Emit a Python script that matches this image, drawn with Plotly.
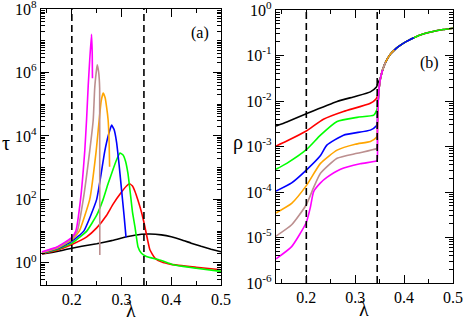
import numpy as np
import plotly.graph_objects as go

# ---------------- data: panel (a), tau vs lambda (log10 tau values) ----------------
lam_a_black = [0.14, 0.16, 0.18, 0.2, 0.22, 0.25, 0.28, 0.31, 0.34, 0.357, 0.38, 0.4, 0.42, 0.44, 0.46, 0.48, 0.5]
log_a_black = [0.28, 0.33, 0.39, 0.46, 0.52, 0.6, 0.7, 0.82, 0.9, 0.91, 0.88, 0.82, 0.73, 0.62, 0.52, 0.43, 0.35]

lam_a_red = [0.14, 0.17, 0.2, 0.23, 0.25, 0.27, 0.283, 0.3, 0.31, 0.316, 0.322, 0.327, 0.333, 0.34, 0.347, 0.352, 0.357, 0.367, 0.38, 0.4, 0.45, 0.5]
log_a_red = [0.29, 0.4, 0.58, 0.82, 1.1, 1.5, 1.85, 2.23, 2.42, 2.49, 2.42, 2.25, 1.97, 1.6, 1.13, 0.75, 0.41, 0.15, 0.03, -0.05, -0.14, -0.22]

lam_a_green = [0.14, 0.17, 0.2, 0.23, 0.25, 0.263, 0.273, 0.283, 0.29, 0.297, 0.303, 0.308, 0.313, 0.317, 0.322, 0.327, 0.333, 0.34, 0.35, 0.377, 0.404, 0.45, 0.5]
log_a_green = [0.3, 0.42, 0.62, 1.0, 1.5, 2.0, 2.5, 2.95, 3.25, 3.46, 3.4, 3.2, 2.8, 2.28, 1.6, 1.13, 0.51, 0.3, 0.2, 0.09, -0.06, -0.17, -0.27]

lam_a_blue = [0.14, 0.17, 0.2, 0.224, 0.25, 0.266, 0.274, 0.28, 0.285, 0.29, 0.295, 0.3, 0.305, 0.309]
log_a_blue = [0.31, 0.44, 0.68, 1.0, 2.0, 3.5, 4.05, 4.34, 4.2, 3.8, 3.1, 2.3, 1.5, 0.8]

lam_a_orange = [0.14, 0.17, 0.2, 0.215, 0.236, 0.249, 0.255, 0.259, 0.263, 0.267, 0.27, 0.273, 0.275, 0.276]
log_a_orange = [0.32, 0.46, 0.72, 1.0, 2.0, 3.53, 4.5, 5.1, 5.35, 5.2, 4.9, 4.5, 3.8, 3.03]

lam_a_brown = [0.14, 0.17, 0.2, 0.211, 0.223, 0.236, 0.243, 0.246, 0.249, 0.251, 0.254, 0.256, 0.2563]
log_a_brown = [0.33, 0.48, 0.75, 1.0, 2.0, 3.53, 4.5, 5.5, 6.0, 6.24, 6.0, 5.5, 0.25]

lam_a_magenta = [0.14, 0.17, 0.2, 0.208, 0.2175, 0.226, 0.2296, 0.233, 0.236, 0.2396, 0.241, 0.2415]
log_a_magenta = [0.35, 0.5, 0.8, 1.0, 2.0, 3.53, 4.5, 5.6, 6.4, 7.2, 6.6, 5.82]

# ---------------- data: panel (b), rho vs lambda (log10 rho values) ----------------
lam_b_black = [0.138, 0.16, 0.2, 0.263, 0.3, 0.331, 0.343, 0.345]
log_b_black = [-2.55, -2.46, -2.28, -2.01, -1.9, -1.8, -1.7, -1.65]

lam_b_red = [0.138, 0.16, 0.2, 0.235, 0.276, 0.331, 0.343, 0.345]
log_b_red = [-2.99, -2.88, -2.66, -2.40, -2.23, -2.05, -1.95, -1.9]

lam_b_green = [0.138, 0.16, 0.2, 0.229, 0.263, 0.304, 0.338, 0.344, 0.345]
log_b_green = [-3.50, -3.37, -3.07, -2.75, -2.45, -2.36, -2.31, -2.2, -2.15]

lam_b_blue = [0.138, 0.17, 0.2, 0.229, 0.242, 0.276, 0.331, 0.343, 0.345]
log_b_blue = [-3.98, -3.8, -3.52, -3.2, -2.97, -2.75, -2.64, -2.55, -2.5]

lam_b_orange = [0.138, 0.17, 0.2, 0.229, 0.263, 0.3, 0.331, 0.343, 0.345]
log_b_orange = [-4.46, -4.25, -3.86, -3.37, -3.08, -2.95, -2.89, -2.8, -2.75]

lam_b_brown = [0.138, 0.17, 0.2, 0.215, 0.229, 0.263, 0.304, 0.343, 0.345]
log_b_brown = [-4.97, -4.72, -4.28, -3.9, -3.59, -3.26, -3.15, -3.05, -3.03]

lam_b_magenta = [0.138, 0.17, 0.2, 0.208, 0.215, 0.229, 0.242, 0.27, 0.31, 0.343, 0.345]
log_b_magenta = [-5.47, -5.2, -4.67, -4.35, -3.99, -3.8, -3.68, -3.5, -3.38, -3.32, -3.3]

# common high-lambda branch shared by all curves in panel (b)
lam_b_common = [0.3455, 0.347, 0.349, 0.352, 0.356, 0.362, 0.372, 0.38, 0.389, 0.405, 0.42, 0.43, 0.457, 0.48, 0.5]
log_b_common = [-2.6, -2.0, -1.7, -1.48, -1.32, -1.15, -0.97, -0.88, -0.80, -0.69, -0.61, -0.56, -0.48, -0.43, -0.40]
# where each curve stops along the common branch
branch_end = {"black": 0.5, "red": 0.5, "green": 0.5, "blue": 0.42, "orange": 0.38, "brown": 0.362, "magenta": 0.356}

dashed_lambdas = [0.2, 0.345]

colors = {
    "black": "#000000", "red": "#ff0000", "green": "#00ff00", "blue": "#0000ff",
    "orange": "#ffa500", "brown": "#bc8f8f", "magenta": "#ff00ff",
}

series_a = [
    ("black", lam_a_black, log_a_black), ("red", lam_a_red, log_a_red),
    ("green", lam_a_green, log_a_green), ("blue", lam_a_blue, log_a_blue),
    ("orange", lam_a_orange, log_a_orange), ("brown", lam_a_brown, log_a_brown),
    ("magenta", lam_a_magenta, log_a_magenta),
]
series_b = [
    ("black", lam_b_black, log_b_black), ("red", lam_b_red, log_b_red),
    ("green", lam_b_green, log_b_green), ("blue", lam_b_blue, log_b_blue),
    ("orange", lam_b_orange, log_b_orange), ("brown", lam_b_brown, log_b_brown),
    ("magenta", lam_b_magenta, log_b_magenta),
]

fig = go.Figure()

for name, lx, ly in series_a:
    fig.add_trace(go.Scatter(x=lx, y=10 ** np.array(ly), mode="lines",
                             line=dict(color=colors[name], width=1.6, shape="spline", smoothing=0.4),
                             xaxis="x", yaxis="y", showlegend=False, hoverinfo="skip"))

for name, lx, ly in series_b:
    last = ly[-1]
    ext_x = [x for x, v in zip(lam_b_common, log_b_common) if v > last and x <= branch_end[name]]
    ext_y = [v for x, v in zip(lam_b_common, log_b_common) if v > last and x <= branch_end[name]]
    fig.add_trace(go.Scatter(x=list(lx) + ext_x, y=10 ** np.array(list(ly) + ext_y), mode="lines",
                             line=dict(color=colors[name], width=1.6, shape="spline", smoothing=0.5),
                             xaxis="x2", yaxis="y2", showlegend=False, hoverinfo="skip"))

# dashed vertical lines
for xa, ya in (("x", "y"), ("x2", "y2")):
    for xv in dashed_lambdas:
        fig.add_shape(type="line", xref=xa, yref=f"{ya} domain", x0=xv, x1=xv, y0=0, y1=1,
                      line=dict(color="#000000", width=1.6, dash="7px,4px"))

SERIF = "Liberation Serif, Times New Roman, DejaVu Serif, serif"
font_tick = dict(family=SERIF, size=16, color="#000000")

def sup(n):
    return f"10<sup>{n}</sup>"

# tick definitions
xt_major = [0.2, 0.3, 0.4, 0.5]
xt_minor = [0.15, 0.25, 0.35, 0.45]
a_decades = [0, 2, 4, 6, 8]
b_decades = [-6, -5, -4, -3, -2, -1, 0]
a_minor = [m * 10.0 ** e for e in range(-1, 8) for m in range(2, 10)] + [10.0 ** e for e in (1, 3, 5, 7)]
b_minor = [m * 10.0 ** e for e in range(-6, 0) for m in range(2, 10)]

common_x = dict(showline=True, linecolor="#000000", linewidth=1.2, mirror="allticks",
                ticks="inside", ticklen=8, tickwidth=1, tickcolor="#000000",
                tickmode="array", tickvals=xt_major, ticktext=[str(v) for v in xt_major],
                minor=dict(tickvals=xt_minor, ticks="inside", ticklen=4, tickcolor="#000000"),
                showgrid=False, zeroline=False, tickfont=font_tick, ticklabeloverflow="allow",
                automargin=False)
common_y = dict(showline=True, linecolor="#000000", linewidth=1.2, mirror="allticks",
                ticks="inside", ticklen=8, tickwidth=1, tickcolor="#000000", tickmode="array",
                type="log", showgrid=False, zeroline=False, tickfont=font_tick, ticklabeloverflow="allow",
                automargin=False)

fig.update_layout(
    width=463, height=321, autosize=False,
    margin=dict(l=0, r=0, t=0, b=0, pad=0, autoexpand=False),
    paper_bgcolor="#ffffff", plot_bgcolor="#ffffff",
    font=dict(family=SERIF, color="#000000"),
    xaxis=dict(domain=[41 / 463, 221 / 463], range=[0.138, 0.5], anchor="y", **common_x),
    yaxis=dict(domain=[1 - 285 / 321, 1 - 9 / 321], range=[np.log10(0.2), 8.0001], anchor="x",
               tickvals=[10.0 ** d for d in a_decades], ticktext=[sup(d) for d in a_decades],
               minor=dict(tickvals=a_minor, ticks="inside", ticklen=4, tickcolor="#000000"),
               **common_y),
    xaxis2=dict(domain=[276 / 463, 453 / 463], range=[0.138, 0.5], anchor="y2", **common_x),
    yaxis2=dict(domain=[1 - 283 / 321, 1 - 10 / 321], range=[-6, 0.0001], anchor="x2",
                tickvals=[10.0 ** d for d in b_decades], ticktext=[sup(d) for d in b_decades],
                minor=dict(tickvals=b_minor, ticks="inside", ticklen=4, tickcolor="#000000"),
                **common_y),
)

title_font = dict(family=SERIF, size=20, color="#000000")
label_font = dict(family=SERIF, size=16, color="#000000")
annos = [
    dict(text="τ", x=6, y=143, font=title_font),
    dict(text="λ", x=131, y=310, font=title_font),
    dict(text="ρ", x=238, y=142, font=title_font),
    dict(text="λ", x=364, y=309, font=title_font),
    dict(text="(a)", x=200, y=33, font=label_font),
    dict(text="(b)", x=429, y=63, font=label_font),
]
for a in annos:
    fig.add_annotation(text=a["text"], x=a["x"] / 463, y=1 - a["y"] / 321, xref="paper", yref="paper",
                       showarrow=False, xanchor="center", yanchor="middle", font=a["font"])

fig.write_html("out.html", config={"displayModeBar": False},
               post_script="document.body.style.margin='0';document.body.style.padding='0';document.body.style.overflow='hidden';")
